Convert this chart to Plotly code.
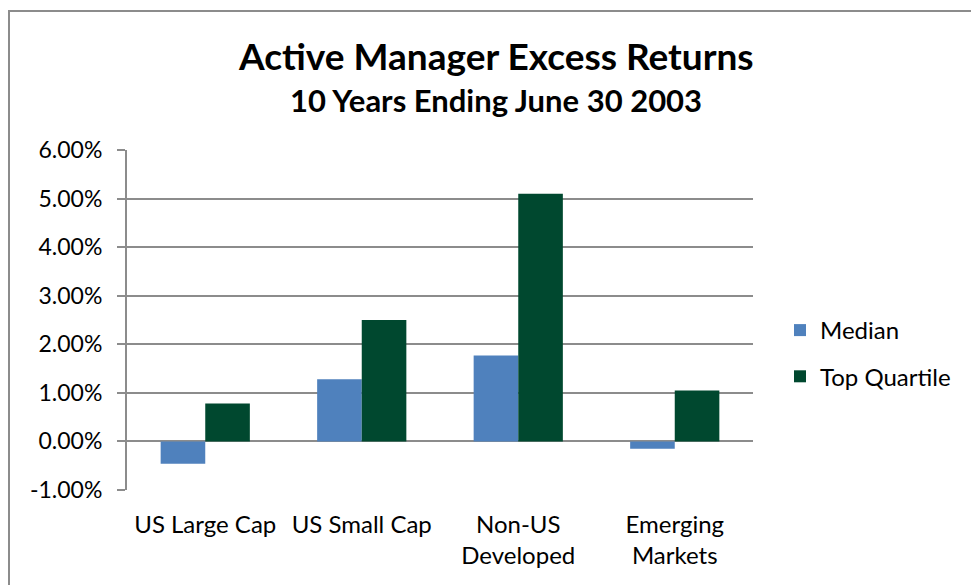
import plotly.graph_objects as go

categories = ["US Large Cap", "US Small Cap", "Non-US<br>Developed", "Emerging<br>Markets"]
median_vals = [-0.46, 1.28, 1.77, -0.15]
top_quartile_vals = [0.78, 2.50, 5.10, 1.05]
series_names = ["Median", "Top Quartile"]
y_tick_vals = [-1, 0, 1, 2, 3, 4, 5, 6]
y_tick_text = ["-1.00%", "0.00%", "1.00%", "2.00%", "3.00%", "4.00%", "5.00%", "6.00%"]

FONT = "Lato"
GRAY = "#8c8c8c"

fig = go.Figure()
fig.add_trace(go.Bar(x=categories, y=median_vals, name=series_names[0],
                     marker=dict(color="#4F81BD", line=dict(width=0)), legendgroup="a"))
fig.add_trace(go.Bar(x=categories, y=top_quartile_vals, name=series_names[1],
                     marker=dict(color="#00482F", line=dict(width=0)), legendgroup="b"))

L, R, T, B = 127, 218, 150, 95
W, H = 971, 585
pw = W - L - R
ph = H - T - B
zero_frac = (0 - (-1)) / 7

fig.update_layout(
    width=W, height=H,
    margin=dict(l=L, r=R, t=T, b=B, pad=0),
    paper_bgcolor="white", plot_bgcolor="white",
    font=dict(family=FONT, color="black", size=20),
    barmode="group", bargap=0.43, bargroupgap=0,
    showlegend=True,
    legend=dict(x=(780 - L) / pw, y=(H - B - 308) / ph, xanchor="left", yanchor="top",
                font=dict(family=FONT, size=24, color="black"),
                tracegroupgap=12, traceorder="grouped", bgcolor="rgba(0,0,0,0)"),
    xaxis=dict(type="category", showline=False, ticks="", showgrid=False,
               tickfont=dict(family=FONT, size=24), automargin=False,
               ticklabelstandoff=18),
    xaxis2=dict(type="linear", range=[-0.5, 3.5], overlaying="x", anchor="free",
                position=zero_frac, side="bottom", showline=True, linecolor=GRAY, linewidth=2,
                ticks="outside", ticklen=7, tickwidth=2, tickcolor=GRAY,
                tickvals=[-0.5, 0.5, 1.5, 2.5, 3.5], showticklabels=False, showgrid=False,
                zeroline=False),
    yaxis=dict(range=[-1, 6], tickvals=y_tick_vals, ticktext=y_tick_text,
               showgrid=True, gridcolor=GRAY, gridwidth=2, zeroline=False,
               showline=True, linecolor=GRAY, linewidth=2, ticks="outside", ticklen=8,
               tickwidth=2, tickcolor=GRAY, tickfont=dict(family=FONT, size=23),
               automargin=False, ticklabelstandoff=10),
)

fig.add_annotation(text="<b>Active Manager Excess Returns</b>", xref="paper", yref="paper",
                   x=(496 - L) / pw, y=(H - B - 55) / ph, xanchor="center", yanchor="middle",
                   showarrow=False, font=dict(family=FONT, size=37, color="black"))
fig.add_annotation(text="<b>10 Years Ending June 30 2003</b>", xref="paper", yref="paper",
                   x=(496 - L) / pw, y=(H - B - 100) / ph, xanchor="center", yanchor="middle",
                   showarrow=False, font=dict(family=FONT, size=31, color="black"))

# chart border
fig.add_shape(type="rect", xref="paper", yref="paper",
              x0=(9 - L) / pw, x1=(W + 20 - L) / pw,
              y0=(H - B - (H + 20)) / ph, y1=(H - B - 11) / ph,
              line=dict(color=GRAY, width=2), fillcolor="rgba(0,0,0,0)", layer="below")

fig.write_html("out.html", config={"displayModeBar": False},
               post_script="document.body.style.margin='0';")
